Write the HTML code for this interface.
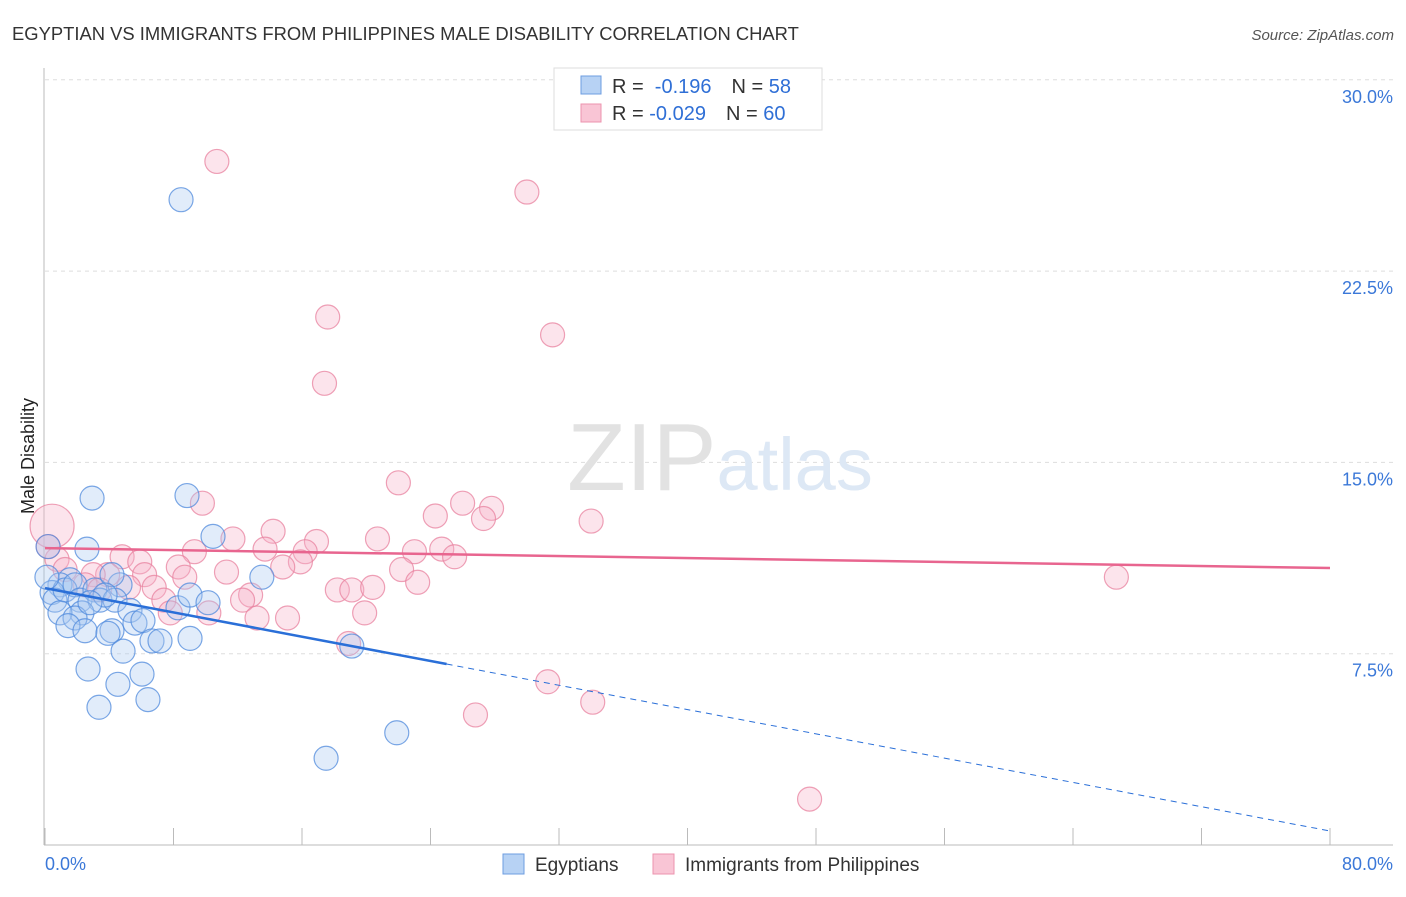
<!DOCTYPE html>
<html><head><meta charset="utf-8"><style>
body{margin:0;background:#fff;font-family:"Liberation Sans",sans-serif}
svg text{font-family:"Liberation Sans",sans-serif}
</style></head><body>
<svg id="c" width="1406" height="892">
<text x="12" y="40" font-size="18.4" fill="#333">EGYPTIAN VS IMMIGRANTS FROM PHILIPPINES MALE DISABILITY CORRELATION CHART</text>
<text x="1394" y="40" font-size="15" fill="#555" font-style="italic" text-anchor="end">Source: ZipAtlas.com</text>
<text x="0" y="0" font-size="18" fill="#222" transform="translate(34,456) rotate(-90)" text-anchor="middle">Male Disability</text>
<g id="grid"></g>
<text x="720" y="490" font-size="96" fill="#e4e4e4" text-anchor="middle" font-family="Liberation Serif"><tspan fill="#e2e2e2">ZIP</tspan><tspan fill="#dde8f5" font-family="Liberation Sans" font-size="74">atlas</tspan></text>
<g id="marks"></g>
<g>
<rect x="554" y="68" width="268" height="62" fill="#fff" stroke="#ddd"/>
<rect x="581" y="76" width="20" height="18" fill="#b7d2f4" stroke="#6d9de0"/>
<rect x="581" y="104" width="20" height="18" fill="#f9c5d5" stroke="#ec93ae"/>
<text x="612" y="93" font-size="20" fill="#333">R = <tspan fill="#2f6fd6">&#160;-0.196</tspan><tspan dx="20" fill="#333">N = </tspan><tspan fill="#2f6fd6">58</tspan></text>
<text x="612" y="120" font-size="20" fill="#333">R = <tspan fill="#2f6fd6">-0.029</tspan><tspan dx="20" fill="#333">N = </tspan><tspan fill="#2f6fd6">60</tspan></text>
</g>
<g>
<rect x="503" y="854" width="21" height="20" fill="#b7d2f4" stroke="#6d9de0"/>
<text x="535" y="871" font-size="19" fill="#333">Egyptians</text>
<rect x="653" y="854" width="21" height="20" fill="#f9c5d5" stroke="#ec93ae"/>
<text x="685" y="871" font-size="19" fill="#333">Immigrants from Philippines</text>
</g>
</svg>
<script>
const yTicks=[7.5,15,22.5,30];
const yTickLabels=["7.5%","15.0%","22.5%","30.0%"];
const xTickLabels=["0.0%","80.0%"];
const egX=[8.47,2.93,8.84,10.46,2.61,0.19,13.5,4.67,1.56,0.93,0.44,0.62,1.25,1.87,2.18,3.11,3.42,4.17,4.36,5.29,8.28,9.03,10.15,2.3,0.93,1.87,1.43,2.49,4.17,3.92,5.6,6.1,6.66,7.16,9.03,4.86,2.68,6.04,4.54,6.41,3.36,19.1,21.9,17.5,3.74,2.8,0.12];
const egY=[25.3,13.6,13.7,12.1,11.6,11.7,10.5,10.2,10.4,10.2,9.9,9.6,10.0,10.2,9.6,10.0,9.6,10.6,9.6,9.2,9.3,9.8,9.5,9.1,9.1,8.9,8.6,8.4,8.4,8.3,8.7,8.8,8.0,8.0,8.1,7.6,6.9,6.7,6.3,5.7,5.4,7.8,4.4,3.4,9.8,9.5,10.5];
const phX=[10.7,30.0,17.6,31.6,17.4,22.0,9.8,26.0,24.3,27.8,27.3,34.0,14.2,11.7,16.9,20.7,13.7,9.3,16.2,23.0,24.7,25.5,4.8,15.9,5.9,8.3,14.8,22.2,11.3,6.2,8.7,3.9,23.2,66.7,5.2,6.8,18.2,19.1,20.4,12.8,12.3,7.4,10.2,19.9,7.8,13.2,15.1,18.9,31.3,34.1,26.8,47.6,0.44,0.75,1.25,3.0,2.5,3.4,0.2];
const phY=[26.8,25.6,20.7,20.0,18.1,14.2,13.4,13.4,12.9,13.2,12.8,12.7,12.3,12.0,11.9,12.0,11.6,11.5,11.5,11.5,11.6,11.3,11.3,11.1,11.1,10.9,10.9,10.8,10.7,10.6,10.5,10.6,10.3,10.5,10.1,10.1,10.0,10.0,10.1,9.8,9.6,9.6,9.1,9.1,9.1,8.9,8.9,7.9,6.4,5.6,5.1,1.8,12.5,11.2,10.8,10.6,10.2,10.0,11.7];
const egTrend=[10.07,-0.119];
const phTrend=[11.64,-0.00975];
const X0=45,X1=1330,Y0=845,YPX=191.3/7.5;
const sx=v=>X0+v/80*(X1-X0), sy=v=>Y0-v*YPX;
const NS="http://www.w3.org/2000/svg";
function mk(t,a,p){const e=document.createElementNS(NS,t);for(const k in a)e.setAttribute(k,a[k]);p.appendChild(e);return e;}
const g=document.getElementById('grid'),m=document.getElementById('marks');
yTicks.forEach((t,i)=>{
 const l=mk('line',{x1:45,x2:1393,y1:sy(t),y2:sy(t),stroke:'#ddd','stroke-dasharray':'4,4'},g);
 
 
 const tx=mk('text',{x:1393,y:sy(t)+23,'font-size':18,fill:'#3b78d8','text-anchor':'end'},g);
 tx.textContent=yTickLabels[i];
 
 
});
const ax=mk('line',{x1:44,x2:44,y1:68,y2:845,stroke:'#bbb'},g);


const bx=mk('line',{x1:44,x2:1393,y1:845,y2:845,stroke:'#bbb'},g);


for(let i=0;i<=10;i++){const t=mk('line',{x1:sx(i*8),x2:sx(i*8),y1:828,y2:845,stroke:'#bbb'},g);
 
 }
[[0,45,'start'],[80,1393,'end']].forEach((d,i)=>{const t=mk('text',{x:d[1],y:870,'font-size':18,fill:'#3b78d8','text-anchor':d[2]},g);t.textContent=xTickLabels[i];
 
 });
function pts(X,Y,f,s,name){X.forEach((x,i)=>{const r=(name==='point-philippines'&&i===52)?22:12;
 const c=mk('circle',{cx:sx(x),cy:sy(Y[i]),r:r,fill:f,'fill-opacity':0.35,stroke:s,'stroke-width':1.2,'stroke-opacity':0.75},m);
 
 });}
pts(phX,phY,'#f5b3c8','#e8829f','point-philippines');
pts(egX,egY,'#a9c8f0','#4f89dc','point-egyptians');
const ln=(tr,a,b,st,dash,name)=>{const l=mk('line',{x1:sx(a),y1:sy(tr[0]+tr[1]*a),x2:sx(b),y2:sy(tr[0]+tr[1]*b),stroke:st,'stroke-width':dash?1:2.5,'stroke-dasharray':dash?'6,5':'none'},m);
 
 };
ln(phTrend,0,80,'#e8658f',false,'trendline-philippines');
ln(egTrend,0,25,'#2a6fd8',false,'trendline-egyptians');
ln(egTrend,25,80,'#2a6fd8',true,'trendline-egyptians-extrapolated');
</script>
</body></html>
